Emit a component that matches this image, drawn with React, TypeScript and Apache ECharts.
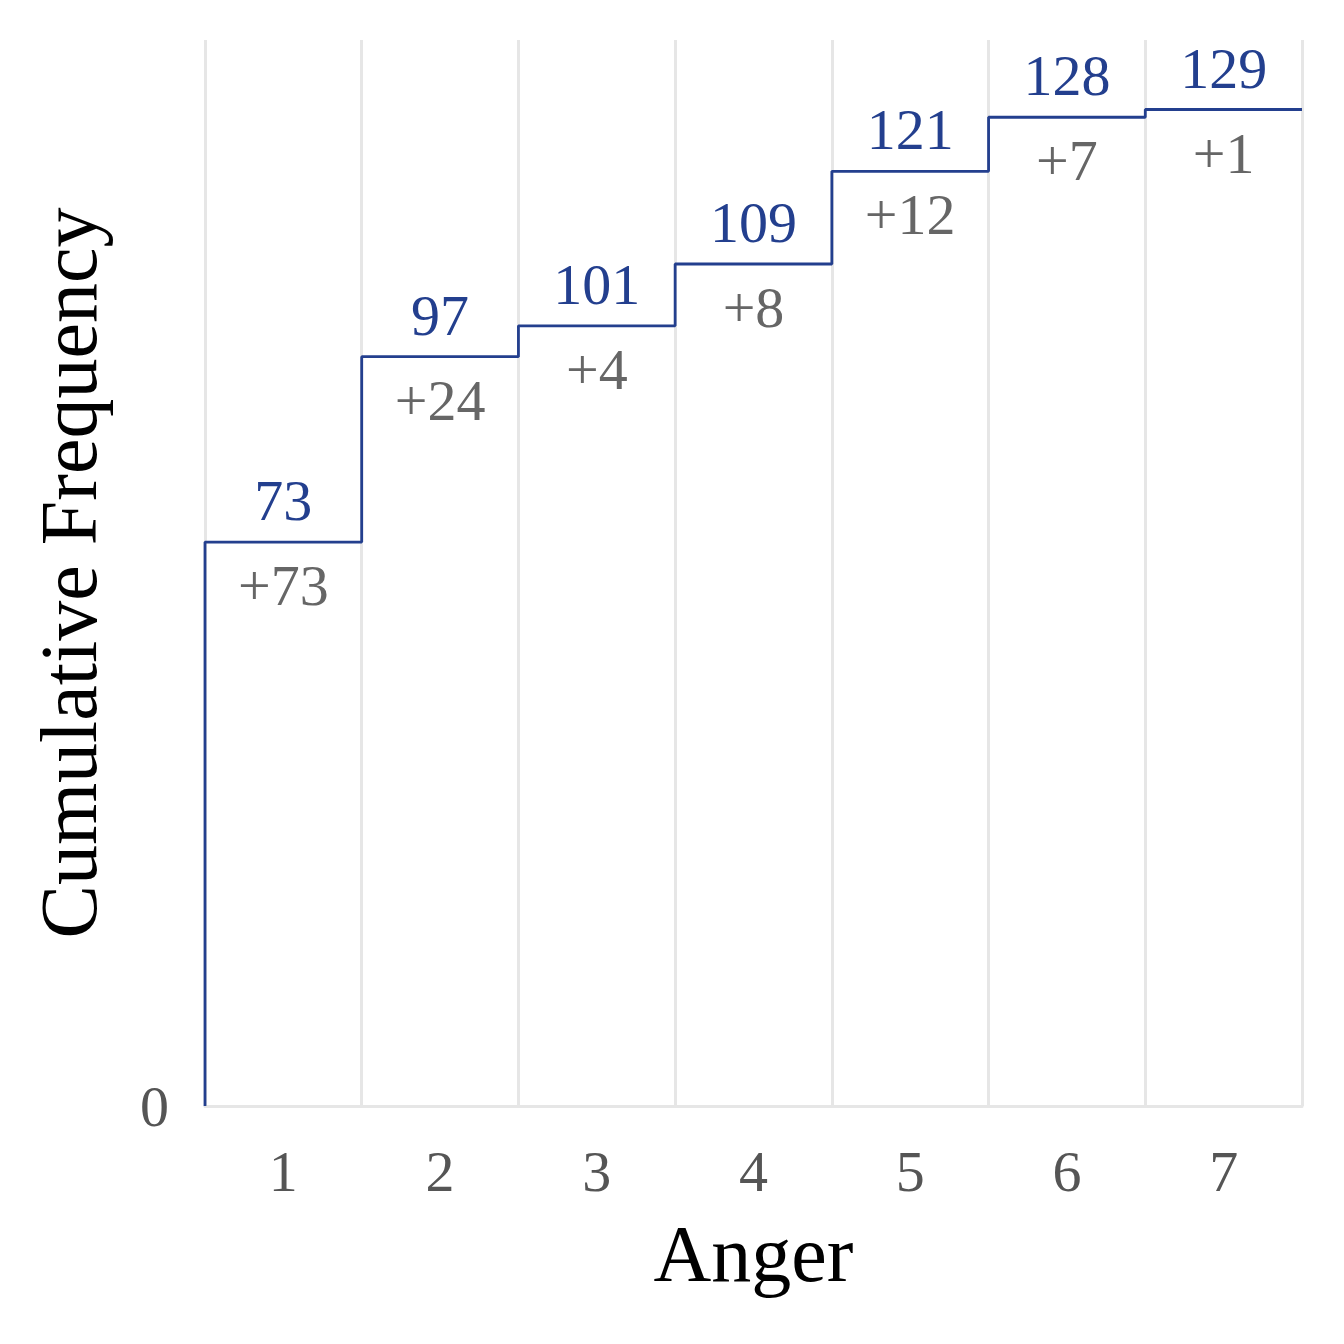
import React, { useEffect, useRef } from "react";
import * as echarts from "echarts";

const categories = ["1", "2", "3", "4", "5", "6", "7"];
const cumulative = [73, 97, 101, 109, 121, 128, 129];
const increments = [73, 24, 4, 8, 12, 7, 1];
const yMax = 138;

const FONT = "Liberation Serif";
const BLUE = "#233f8e";

export default function App() {
  const ref = useRef<HTMLDivElement>(null);
  useEffect(() => {
    document.body.style.margin = "0";
    const chart = echarts.init(ref.current!, null, { renderer: "svg" });
    const stepData: number[][] = [[0, 0]];
    cumulative.forEach((v, i) => stepData.push([i + 1, v]));
    chart.setOption({
      animation: false,
      backgroundColor: "#ffffff",
      textStyle: { fontFamily: FONT },
      grid: { left: 205, right: 42, top: 40, bottom: 238, containLabel: false },
      xAxis: [
        {
          type: "value",
          min: 0,
          max: categories.length,
          interval: 1,
          axisLabel: { show: false },
          axisTick: { show: false },
          axisLine: { show: true, lineStyle: { color: "#e6e6e6", width: 3 } },
          splitLine: { show: true, lineStyle: { color: "#e6e6e6", width: 3 } },
        },
        {
          type: "category",
          data: categories,
          position: "bottom",
          boundaryGap: true,
          axisLine: { show: false },
          axisTick: { show: false },
          splitLine: { show: false },
          axisLabel: { color: "#555555", fontSize: 58, fontFamily: FONT, margin: 36 },
          name: "Anger",
          nameLocation: "middle",
          nameGap: 108,
          nameTextStyle: { color: "#000000", fontSize: 80, fontFamily: FONT },
        },
      ],
      yAxis: {
        type: "value",
        min: 0,
        max: yMax,
        interval: yMax,
        axisLine: { show: false },
        axisTick: { show: false },
        splitLine: { show: false },
        axisLabel: {
          color: "#555555",
          fontSize: 58,
          fontFamily: FONT,
          margin: 36,
          formatter: (v: number) => (v === 0 ? "0" : ""),
        },
        name: "Cumulative Frequency",
        nameLocation: "middle",
        nameGap: 96,
        nameTextStyle: { color: "#000000", fontSize: 80, fontFamily: FONT },
      },
      series: [
        {
          type: "line",
          xAxisIndex: 0,
          data: stepData,
          step: "start",
          symbol: "none",
          clip: false,
          lineStyle: { color: BLUE, width: 2.8 },
          z: 3,
        },
        {
          type: "scatter",
          xAxisIndex: 1,
          data: cumulative,
          symbolSize: 1,
          itemStyle: { color: "transparent", opacity: 1 },
          label: {
            show: true,
            position: "top",
            distance: 12,
            color: BLUE,
            opacity: 1,
            fontSize: 58,
            fontFamily: FONT,
            formatter: (p: any) => String(p.value),
          },
          z: 4,
        },
        {
          type: "scatter",
          xAxisIndex: 1,
          data: cumulative,
          symbolSize: 1,
          itemStyle: { color: "transparent", opacity: 1 },
          label: {
            show: true,
            position: "bottom",
            distance: 14,
            color: "#666666",
            opacity: 1,
            fontSize: 58,
            fontFamily: FONT,
            formatter: (p: any) => "+" + increments[p.dataIndex],
          },
          z: 4,
        },
      ],
    });
    return () => chart.dispose();
  }, []);
  return <div ref={ref} style={{ width: 1344, height: 1344 }} />;
}
